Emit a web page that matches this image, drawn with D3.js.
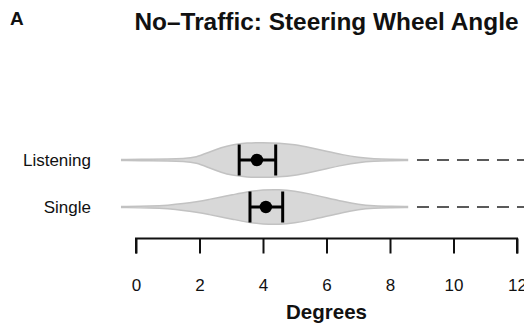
<!DOCTYPE html>
<html>
<head>
<meta charset="utf-8">
<script src="https://cdn.jsdelivr.net/npm/d3@7"></script>
<style>
  html, body { margin: 0; padding: 0; background: #fff; }
  svg { display: block; font-family: "Liberation Sans", Arial, Helvetica, sans-serif; }
</style>
</head>
<body>
<svg id="chart" width="524" height="326"></svg>
<script>
// Conditions, top to bottom
const conditions = ["Listening", "Single"];

// Kernel density profile (degrees -> relative density) for each condition
const densityDegrees = [-0.45, 0.5, 1.0, 1.5, 1.9, 2.3, 2.7, 3.0, 3.5, 4.0, 4.5, 5.0, 5.5, 6.0, 6.5, 7.0, 7.5, 8.0, 8.55];
const densityListening = [0.03, 0.04, 0.05, 0.08, 0.15, 0.45, 0.72, 0.87, 0.98, 1.0, 0.97, 0.88, 0.70, 0.50, 0.30, 0.14, 0.07, 0.045, 0.03];
const densitySingle    = [0.03, 0.05, 0.10, 0.19, 0.30, 0.43, 0.58, 0.68, 0.87, 0.98, 1.0, 0.92, 0.74, 0.53, 0.32, 0.14, 0.06, 0.04, 0.03];

// Mean and confidence interval (degrees)
const means   = [3.81, 4.09];
const ciLow   = [3.25, 3.59];
const ciHigh  = [4.40, 4.62];

// Remaining range beyond the violin, drawn dashed
const dashFrom = [8.85, 8.85];
const dashTo   = [13, 13];

// Axis ticks
const tickValues = [0, 2, 4, 6, 8, 10, 12];

const svg = d3.select("#chart");

const x = d3.scaleLinear().domain([0, 12]).range([136, 517]);
const y = d3.scalePoint().domain(conditions).range([160, 207]);
const halfWidth = d3.scaleLinear().domain([0, 1]).range([0, 17.5]);

const densities = [densityListening, densitySingle];

// Violins
const area = d3.area()
  .curve(d3.curveBasis)
  .x(d => x(d.deg))
  .y0(d => d.yc - halfWidth(d.v))
  .y1(d => d.yc + halfWidth(d.v));

conditions.forEach((c, i) => {
  const pts = densityDegrees.map((deg, j) => ({ deg, v: densities[i][j], yc: y(c) }));
  svg.append("path")
    .attr("d", area(pts))
    .attr("fill", "#d8d8d8")
    .attr("stroke", "#c2c2c2")
    .attr("stroke-width", 1.5);

  // dashed continuation
  svg.append("line")
    .attr("x1", x(dashFrom[i])).attr("x2", x(dashTo[i]))
    .attr("y1", y(c)).attr("y2", y(c))
    .attr("stroke", "#5a5a5a")
    .attr("stroke-width", 2)
    .attr("stroke-dasharray", "12,8");

  // confidence interval
  const g = svg.append("g").attr("stroke", "#000").attr("stroke-width", 3);
  g.append("line")
    .attr("x1", x(ciLow[i])).attr("x2", x(ciHigh[i]))
    .attr("y1", y(c)).attr("y2", y(c));
  [ciLow[i], ciHigh[i]].forEach(v => {
    g.append("line")
      .attr("x1", x(v)).attr("x2", x(v))
      .attr("y1", y(c) - 15.5).attr("y2", y(c) + 15.5);
  });
  svg.append("circle")
    .attr("cx", x(means[i])).attr("cy", y(c))
    .attr("r", 6.2)
    .attr("fill", "#000");
});

// Category labels
svg.append("g").selectAll("text")
  .data(conditions)
  .join("text")
  .attr("x", 91)
  .attr("y", d => y(d))
  .attr("dy", "0.35em")
  .attr("text-anchor", "end")
  .attr("font-size", 17)
  .attr("fill", "#111")
  .text(d => d);

// X axis
const axis = svg.append("g")
  .attr("transform", "translate(0,238.5)")
  .call(d3.axisBottom(x).tickValues(tickValues).tickSize(15).tickPadding(25).tickSizeOuter(0));
axis.select(".domain").attr("stroke", "#111").attr("stroke-width", 2)
  .attr("d", `M${x(0)},15V0H${x(12)}V15`);
axis.selectAll(".tick line").attr("stroke", "#111").attr("stroke-width", 2);
axis.selectAll(".tick text")
  .attr("font-size", 17)
  .attr("font-family", "Liberation Sans, Arial, sans-serif")
  .attr("fill", "#111");

// Axis title
svg.append("text")
  .attr("x", x(6))
  .attr("y", 319)
  .attr("text-anchor", "middle")
  .attr("font-size", 20.5)
  .attr("font-weight", "bold")
  .attr("fill", "#111")
  .text("Degrees");

// Chart title
svg.append("text")
  .attr("x", x(6))
  .attr("y", 29.5)
  .attr("text-anchor", "middle")
  .attr("font-size", 24.4)
  .attr("font-weight", "bold")
  .attr("fill", "#111")
  .text("No\u2013Traffic: Steering Wheel Angle");

// Panel letter
svg.append("text")
  .attr("x", 10)
  .attr("y", 25)
  .attr("font-size", 19)
  .attr("font-weight", "bold")
  .attr("fill", "#111")
  .text("A");
</script>
</body>
</html>
